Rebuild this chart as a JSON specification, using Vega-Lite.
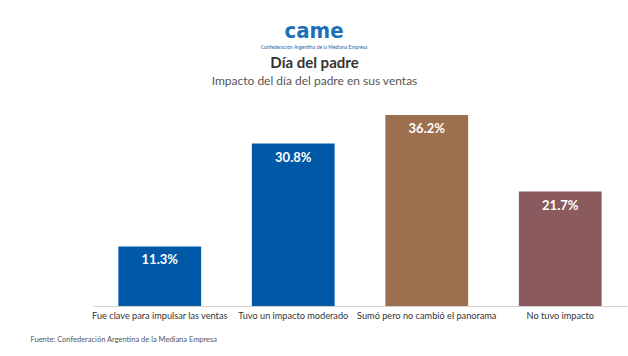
{
  "$schema": "https://vega.github.io/schema/vega-lite/v6.json",
  "width": 534,
  "height": 211,
  "autosize": {"type": "none"},
  "padding": {"left": 93, "top": 95, "right": 1, "bottom": 50},
  "background": "white",
  "config": {"view": {"stroke": null}, "font": "Lato"},
  "title": {
    "text": "came",
    "subtitle": "Confederación Argentina de la Mediana Empresa",
    "anchor": "middle",
    "frame": "group",
    "dx": -46,
    "offset": 43,
    "dy": 39,
    "font": "DejaVu Sans Condensed",
    "fontSize": 22,
    "fontWeight": "bold",
    "color": "#1f6fb8",
    "subtitleFont": "Lato",
    "subtitleFontSize": 5,
    "subtitleColor": "#1f5fa8",
    "subtitlePadding": 2
  },
  "data": {
    "values": [
      {"cat": "Fue clave para impulsar las ventas", "val": 11.3, "label": "11.3%"},
      {"cat": "Tuvo un impacto moderado", "val": 30.8, "label": "30.8%"},
      {"cat": "Sumó pero no cambió el panorama", "val": 36.2, "label": "36.2%"},
      {"cat": "No tuvo impacto", "val": 21.7, "label": "21.7%"}
    ]
  },
  "encoding": {
    "x": {
      "field": "cat",
      "type": "nominal",
      "sort": null,
      "scale": {"paddingInner": 0.38, "paddingOuter": 0.19},
      "axis": {
        "labelAngle": 0,
        "labelFontSize": 9.2,
        "labelColor": "#333333",
        "labelPadding": 5,
        "ticks": false,
        "domainColor": "#d0d0d0",
        "title": "Fuente: Confederación Argentina de la Mediana Empresa",
        "titleFontSize": 7.5,
        "titleFontWeight": "normal",
        "titleColor": "#555555",
        "titleAnchor": "start",
        "titleAlign": "left",
        "titleX": -63,
        "titleY": 29
      }
    }
  },
  "layer": [
    {
      "mark": {"type": "bar"},
      "encoding": {
        "y": {
          "field": "val",
          "type": "quantitative",
          "scale": {"domain": [0, 40]},
          "axis": {
            "orient": "left",
            "labels": false,
            "ticks": false,
            "domain": false,
            "grid": false,
            "title": "Día del padre",
            "titleAngle": 0,
            "titleAlign": "center",
            "titleBaseline": "middle",
            "titleX": 221,
            "titleY": -33,
            "titleFontSize": 15,
            "titleFontWeight": "bold",
            "titleColor": "#333333"
          }
        },
        "color": {
          "field": "cat",
          "type": "nominal",
          "sort": null,
          "legend": null,
          "scale": {
            "domain": ["Fue clave para impulsar las ventas", "Tuvo un impacto moderado", "Sumó pero no cambió el panorama", "No tuvo impacto"],
            "range": ["#0059a6", "#0059a6", "#9c6f4f", "#8a5a5c"]
          }
        }
      }
    },
    {
      "mark": {"type": "text", "baseline": "top", "dy": 8, "color": "white", "fontSize": 13, "fontWeight": "bold"},
      "encoding": {
        "y": {
          "field": "val",
          "type": "quantitative",
          "scale": {"domain": [0, 40]},
          "axis": {
            "orient": "right",
            "labels": false,
            "ticks": false,
            "domain": false,
            "grid": false,
            "title": "Impacto del día del padre en sus ventas",
            "titleAngle": 0,
            "titleAlign": "center",
            "titleBaseline": "middle",
            "titleX": -313,
            "titleY": -15,
            "titleFontSize": 12,
            "titleFontWeight": "normal",
            "titleColor": "#555555"
          }
        },
        "text": {"field": "label"}
      }
    }
  ],
  "resolve": {"axis": {"y": "independent"}}
}
